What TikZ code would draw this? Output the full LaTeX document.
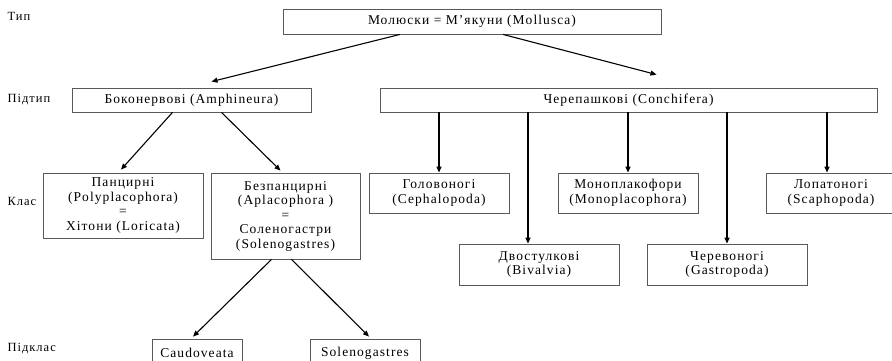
\documentclass[tikz,border=0pt]{standalone}
\usepackage{fontspec}
\setmainfont[LetterSpace=8]{Liberation Serif}
\usepackage{xcolor}
\usetikzlibrary{shapes,arrows.meta,positioning,calc}

\tikzset{
  taxbox/.style={draw=black!65,line width=0.8pt,align=center,inner sep=1pt,
    font=\fontsize{13.5}{14.5}\selectfont},
  arr/.style={-{Triangle[length=6pt,width=5pt]},line width=1.1pt},
  rank/.style={anchor=west,font=\fontsize{12.5}{13}\selectfont}
}

\begin{document}
\begin{tikzpicture}[x=1pt,y=-1pt]
  \useasboundingbox (0,0) rectangle (892,361);
  \clip (0,0) rectangle (892,361);
  % ранги
  \node[rank] (rtype) at (4,16) {Тип};
  \node[rank] (rsub) at (4,100) {Підтип};
  \node[rank] (rclass) at (4,201) {Клас};
  \node[rank] (rsubcl) at (4,349) {Підклас};
  % тип і підтипи
  \node[taxbox,minimum width=378pt,minimum height=25pt] (moll) at (472,21.5) {Молюски = М’якуни (Mollusca)};
  \node[taxbox,minimum width=239pt,minimum height=24pt] (amph) at (191.5,100) {Боконервові (Amphineura)};
  \node[taxbox,minimum width=497pt,minimum height=24pt] (conch) at (628.5,100) {Черепашкові (Conchifera)};
  % класи
  \node[taxbox,minimum width=160pt,minimum height=65pt] (poly) at (123,205.5) {Панцирні\\(Polyplacophora)\\=\\Хітони (Loricata)};
  \node[taxbox,minimum width=149pt,minimum height=86pt] (apla) at (285.5,216) {Безпанцирні\\(Aplacophora )\\=\\Соленогастри\\(Solenogastres)};
  \node[taxbox,minimum width=140pt,minimum height=40pt] (ceph) at (439,193) {Головоногі\\(Cephalopoda)};
  \node[taxbox,minimum width=160pt,minimum height=41pt] (biv) at (539,264.5) {Двостулкові\\(Bivalvia)};
  \node[taxbox,minimum width=140pt,minimum height=40pt] (mono) at (628,193) {Моноплакофори\\(Monoplacophora)};
  \node[taxbox,minimum width=160pt,minimum height=41pt] (gast) at (727,264.5) {Черевоногі\\(Gastropoda)};
  \node[taxbox,minimum width=130pt,minimum height=40pt] (scaph) at (831,193) {Лопатоногі\\(Scaphopoda)};
  % підкласи
  \node[taxbox,minimum width=90pt,minimum height=28pt] (caud) at (197,353) {Caudoveata};
  \node[taxbox,minimum width=110pt,minimum height=28pt] (solen) at (365,353) {Solenogastres};
  % стрілки
  \draw[arr] ([xshift=-72pt]moll.south) -- ([xshift=20pt,yshift=6pt]amph.north);
  \draw[arr] ([xshift=31pt]moll.south) -- ([xshift=28pt,yshift=13pt]conch.north);
  \draw[arr] ([xshift=-19pt]amph.south) -- ([xshift=-2pt,yshift=3pt]poly.north);
  \draw[arr] ([xshift=30pt]amph.south) -- ([xshift=-5pt,yshift=2pt]apla.north);
  \draw[arr] ([xshift=-14pt]apla.south) -- ([xshift=-4pt,yshift=2pt]caud.north);
  \draw[arr] ([xshift=6pt]apla.south) -- ([xshift=4pt,yshift=2pt]solen.north);
  \draw[arr] (conch.south -| ceph.north) -- (ceph.north);
  \draw[arr,line width=1.6pt] ([xshift=-11pt]biv.north |- conch.south) -- ([xshift=-11pt]biv.north);
  \draw[arr,line width=1.3pt] (conch.south -| mono.north) -- (mono.north);
  \draw[arr,line width=1.4pt] (conch.south -| gast.north) -- (gast.north);
  \draw[arr,line width=1.3pt] ([xshift=-4pt]scaph.north |- conch.south) -- ([xshift=-4pt]scaph.north);
\end{tikzpicture}
\end{document}
